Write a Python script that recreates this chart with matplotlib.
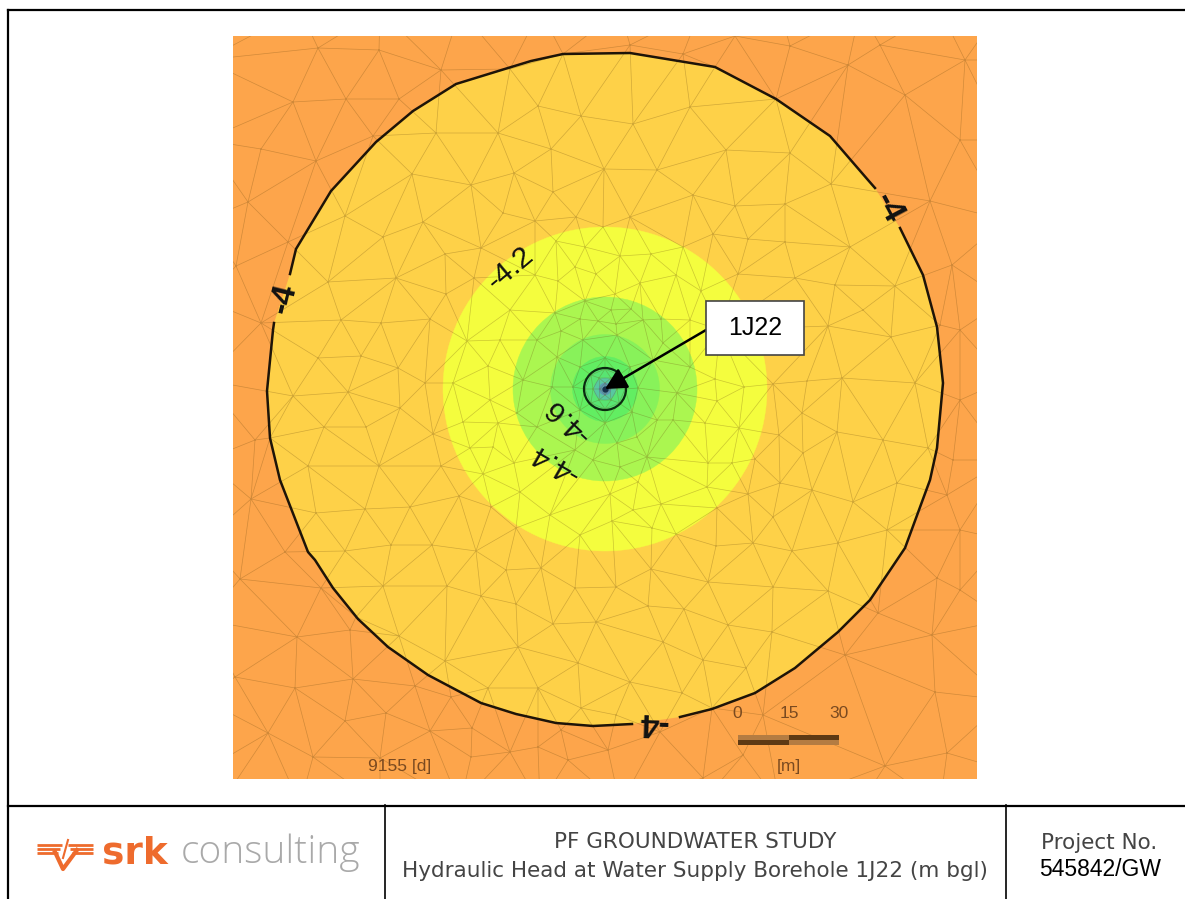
import numpy as np
import matplotlib
matplotlib.use("Agg")
import matplotlib.pyplot as plt
import matplotlib.tri as tri

# everything below is in picture pixels
# mesh nodes
nodes = [
    (318,48),(379,50),(441,70),(293,102),(346,99),(399,99),(261,149),(316,161),(373,136),(248,202),
    (288,242),(236,266),(261,323),(328,282),(345,216),(383,237),(423,222),(412,174),(436,133),(498,133),
    (471,185),(514,173),(503,213),(481,248),(445,254),(396,278),(446,294),(474,278),(430,319),(381,323),
    (341,320),(510,69),(630,45),(683,54),(735,36),(790,46),(776,99),(715,67),(563,54),(538,106),
    (581,116),(633,124),(690,107),(551,149),(604,169),(657,170),(726,150),(790,153),(831,184),(553,192),
    (693,195),(735,206),(785,204),(535,221),(576,217),(630,217),(603,227),(683,247),(713,234),(748,239),
    (785,242),(738,274),(795,278),(828,326),(850,247),(930,201),(835,285),(895,286),(952,265),(863,310),
    (891,337),(940,325),(773,384),(807,381),(842,378),(915,383),(802,413),(779,435),(837,432),(883,440),
    (928,448),(803,453),(755,459),(361,356),(398,368),(318,358),(425,383),(348,392),(293,396),(400,408),
    (324,427),(366,427),(433,434),(270,438),(255,440),(379,466),(308,466),(441,466),(251,499),(316,513),
    (365,509),(410,507),(459,496),(491,507),(516,528),(391,545),(432,545),(476,551),(345,551),(285,552),
    (240,579),(321,588),(383,586),(447,586),(481,596),(506,570),(516,604),(356,617),(541,568),(575,588),
    (616,587),(553,624),(596,622),(518,647),(578,663),(630,682),(445,661),(399,636),(297,637),(350,630),
    (353,679),(295,688),(235,677),(415,686),(488,688),(538,688),(581,708),(616,715),(451,697),(386,713),
    (345,721),(268,733),(430,731),(472,728),(313,757),(471,757),(538,747),(510,752),(608,750),(561,730),
    (568,760),(380,758),(780,483),(812,490),(853,502),(897,483),(947,495),(748,494),(773,517),(887,530),
    (838,543),(792,551),(753,543),(716,546),(717,508),(676,534),(651,569),(708,582),(773,587),(828,591),
    (648,606),(684,609),(728,625),(772,632),(878,613),(937,578),(932,635),(845,655),(663,642),(703,660),
    (746,668),(682,693),(712,708),(935,692),(763,715),(660,732),(743,755),(885,766),(947,753),(703,778),
    # top right and right edge, rougher
    (848,65),(905,95),(960,140),(880,45),(965,60),(960,330),(960,590),(960,400),(953,460),(960,530),
    # beyond the map edge, clipped away
    (220,10),(300,10),(380,10),(460,10),(540,10),(620,10),(700,10),(780,10),(860,10),(940,10),(1000,10),
    (220,805),(300,805),(380,805),(460,805),(540,805),(620,805),(700,805),(780,805),(860,805),(940,805),(1000,805),
    (205,60),(205,140),(205,220),(205,300),(205,380),(205,460),(205,540),(205,620),(205,700),(205,770),
    (1005,60),(1005,140),(1005,220),(1005,300),(1005,380),(1005,460),(1005,540),(1005,620),(1005,700),(1005,770),
    # yellow band
    (556,241),(585,247),(620,256),(651,254),(575,267),(596,274),(676,275),(535,275),(558,281),(640,283),
    (615,294),(701,291),(467,341),(453,383),(488,366),(490,400),(463,422),(498,423),(470,448),(493,447),
    (483,474),(514,463),(520,492),(715,379),(744,387),(717,401),(739,428),(705,423),(732,463),(708,463),
    (610,494),(638,482),(661,504),(633,510),(612,521),(652,528),(707,487),(510,310),(720,330),(690,320),
    (500,340),(580,535),(550,515),
    # green bands
    (585,301),(661,319),(631,309),(611,310),(598,321),(580,319),(561,331),(616,324),(617,335),(583,340),
    (557,357),(537,340),(555,313),(643,320),(663,343),(677,393),(690,367),(653,360),(657,420),(637,437),
    (673,420),(617,443),(593,460),(620,467),(647,457),(517,413),(523,380),(552,387),(537,427),(575,450),
    # around the well
    (605,358),(630,367),(638,388),(632,412),(605,423),(580,410),(573,387),(580,367),(605,369),(619,375),
    (625,389),(619,403),(605,409),(591,403),(585,389),(591,375),(611,378),(617,389),(611,400),(599,400),
    (593,389),(599,378),(605,383),(610,389),(605,395),(600,389),(605,389),
]
nodes_x = [n[0] for n in nodes]
nodes_y = [n[1] for n in nodes]

# -4 contour, nan where the labels break it
contour_x = [290,296,331,376,413,456,508,531,563,630,715,776,830,868,875,np.nan,900,923,937,943,937,930,905,870,838,795,755,712,680,np.nan,632,593,556,516,481,428,388,358,333,315,308,280,270,267,273,274]
contour_y = [274,249,191,142,111,84,68,61,54,53,67,99,136,180,188,np.nan,228,275,327,383,448,480,548,600,632,668,693,709,717,np.nan,724,726,723,714,703,675,647,619,588,560,552,480,438,391,330,323]

# inner contours, radius in pixels around the well
well_x, well_y = 605, 389
radii = [162, 92, 54.5, 32.5, 21, 11, 6]
band_colors = ["#F4FD3E", "#ABF650", "#88F25A", "#62EE62", "#58E472", "#58C8A0", "#5A9AB4"]

bg_color = "#FDA54B"
outer_band = "#FED148"
mesh_color = "#6B4A10"

fig = plt.figure(figsize=(11.85, 8.99), dpi=100, facecolor="white")

# frame and title block
page = fig.add_axes([0, 0, 1, 1])
page.set_xlim(0, 1185)
page.set_ylim(899, 0)
page.axis("off")
page.plot([8, 8], [10, 899], color="black", lw=1.6)
page.plot([8, 1185], [10, 10], color="black", lw=1.6)
page.plot([8, 1185], [805.5, 805.5], color="black", lw=1.6)
page.plot([385, 385], [805, 899], color="black", lw=1.2)
page.plot([1006, 1006], [805, 899], color="black", lw=1.2)

title_font = dict(ha="center", va="center", family="DejaVu Sans", color="#444444")
page.text(695, 842, "PF GROUNDWATER STUDY", fontsize=15.5, **title_font)
page.text(695, 871, "Hydraulic Head at Water Supply Borehole 1J22 (m bgl)", fontsize=15.5, **title_font)
page.text(1099, 843, "Project No.", fontsize=15.5, **title_font)
page.text(1100, 870, "545842/GW", ha="center", va="center", fontsize=16.5, family="Liberation Sans", color="black")

# logo
logo_orange = "#EE6B2D"
for y0 in [845, 849, 853]:
    page.plot([37, 58 + (853 - y0) * 0.5], [y0, y0], color=logo_orange, lw=2.0, solid_capstyle="butt")
    page.plot([72 - (853 - y0) * 0.5, 93], [y0, y0], color=logo_orange, lw=2.0, solid_capstyle="butt")
page.plot([55, 63, 77], [852, 869, 850], color=logo_orange, lw=3)
page.plot([68, 63], [840, 858], color=logo_orange, lw=1.5)
page.text(102, 863, "srk", ha="left", va="baseline", fontsize=27, fontweight="bold", family="DejaVu Sans", color=logo_orange)
page.text(181, 863, "consulting", ha="left", va="baseline", fontsize=28, family="Open Sans", fontweight="light", color="#A9A9A9")

# map
ax = fig.add_axes([233 / 1185, 1 - 779 / 899, (977 - 233) / 1185, (779 - 36) / 899])
ax.set_xlim(233, 977)
ax.set_ylim(779, 36)
ax.axis("off")
ax.fill([233, 977, 977, 233], [36, 36, 779, 779], color=bg_color, zorder=0)

fill_x = [v for v in contour_x if not np.isnan(v)]
fill_y = [v for v in contour_y if not np.isnan(v)]
ax.fill(fill_x, fill_y, color=outer_band, lw=0, zorder=1)
for r, c in zip(radii, band_colors):
    ax.add_patch(plt.Circle((well_x, well_y), r, facecolor=c, edgecolor=c, lw=0.3, zorder=2))

mesh = tri.Triangulation(nodes_x, nodes_y)
ax.triplot(mesh, color=mesh_color, lw=0.5, alpha=0.3, zorder=3)

ax.plot(contour_x, contour_y, color="#1E1408", lw=1.8, zorder=4)
ax.add_patch(plt.Circle((well_x, well_y), 21, fill=False, edgecolor="#0A2A10", lw=1.6, zorder=4))
ax.plot([well_x], [well_y], "o", ms=3.5, color="#14304A", zorder=4)

# contour labels
labels = ["-4", "-4", "-4", "-4.2", "-4.4", "-4.6"]
label_x = [284, 888, 653, 510, 554, 567]
label_y = [299, 208, 722, 268, 463, 420]
label_rot = [76, -62, 178, 40, 150, 137]
label_bold = [True, True, True, False, False, False]
for t, x, y, rot, b in zip(labels, label_x, label_y, label_rot, label_bold):
    ax.text(x, y, t, ha="center", va="center", rotation=rot, rotation_mode="anchor", fontsize=24 if b else 21.5,
            fontweight="bold" if b else "normal", family="Liberation Sans", color="#111111", zorder=5)

# scale bar
bar_ticks = [0, 15, 30]
tick_x = [737, 789, 839]
for v, x in zip(bar_ticks, tick_x):
    ax.text(x, 714, str(v), ha="center", va="center", fontsize=12.5, family="Liberation Sans", color="#7A4A20", zorder=5)
ax.fill([738, 789, 789, 738], [735, 735, 740, 740], color="#B47C42", lw=0, zorder=5)
ax.fill([738, 789, 789, 738], [740, 740, 745, 745], color="#5E3A14", lw=0, zorder=5)
ax.fill([789, 839, 839, 789], [735, 735, 740, 740], color="#5E3A14", lw=0, zorder=5)
ax.fill([789, 839, 839, 789], [740, 740, 745, 745], color="#B47C42", lw=0, zorder=5)
ax.text(789, 767, "[m]", ha="center", va="center", fontsize=12.5, family="Liberation Sans", color="#7A4A20", zorder=5)
ax.text(400, 767, "9155 [d]", ha="center", va="center", fontsize=12.5, family="Liberation Sans", color="#7A4A20", zorder=5)

# well callout
ax.annotate("", xy=(well_x, well_y), xytext=(706, 330), zorder=6,
            arrowprops=dict(arrowstyle="-|>,head_length=0.9,head_width=0.47", color="black", lw=1.8, mutation_scale=14.4, shrinkA=0, shrinkB=0))
ax.text(755, 328, "1J22", ha="center", va="center", fontsize=18, family="Liberation Sans", color="black", zorder=8)
ax.fill([706, 804, 804, 706, 706], [301, 301, 355, 355, 301], facecolor="white", edgecolor="#444444", lw=1.2, zorder=7)

fig.savefig("out.png", dpi=100)
